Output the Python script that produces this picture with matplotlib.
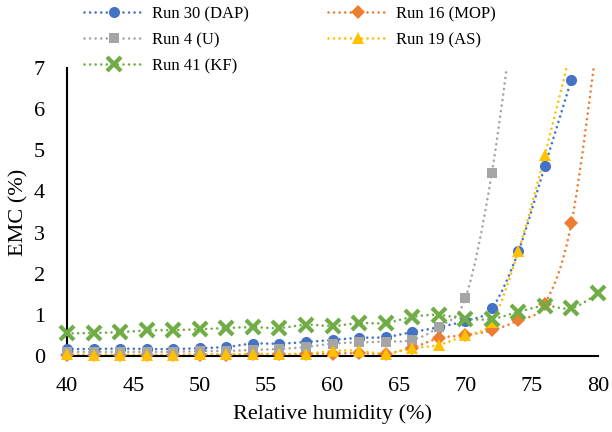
import numpy as np
import matplotlib
matplotlib.use("Agg")
import matplotlib.pyplot as plt
from matplotlib.path import Path
from matplotlib.patches import PathPatch
from matplotlib.lines import Line2D

plt.rcParams["font.family"] = ["Liberation Serif", "DejaVu Serif"]

# relative humidity (%) and equilibrium moisture content (%) for each run
rh_dap = [40, 42, 44, 46, 48, 50, 52, 54, 56, 58, 60, 62, 64, 66, 68, 70, 72, 74, 76, 78]
emc_dap = [0.17, 0.17, 0.18, 0.17, 0.17, 0.19, 0.22, 0.30, 0.30, 0.34,
           0.39, 0.44, 0.46, 0.58, 0.70, 0.86, 1.16, 2.54, 4.62, 6.72]

rh_mop = [40, 42, 44, 46, 48, 50, 52, 54, 56, 58, 60, 62, 64, 66, 68, 70, 72, 74, 76, 78, 80]
emc_mop = [0.03, 0.02, 0.02, 0.02, 0.02, 0.03, 0.03, 0.04, 0.04, 0.05,
           0.06, 0.07, 0.06, 0.20, 0.43, 0.51, 0.62, 0.87, 1.27, 3.23, 7.8]

rh_u = [40, 42, 44, 46, 48, 50, 52, 54, 56, 58, 60, 62, 64, 66, 68, 70, 72, 74]
emc_u = [0.10, 0.10, 0.10, 0.10, 0.10, 0.12, 0.12, 0.15, 0.17, 0.22,
         0.30, 0.33, 0.35, 0.39, 0.71, 1.40, 4.44, 9.2]

rh_as = [40, 42, 44, 46, 48, 50, 52, 54, 56, 58, 60, 62, 64, 66, 68, 70, 72, 74, 76, 78]
emc_as = [0.04, 0.03, 0.03, 0.03, 0.03, 0.04, 0.04, 0.05, 0.05, 0.06,
          0.12, 0.13, 0.05, 0.19, 0.27, 0.51, 0.83, 2.55, 4.89, 7.5]

rh_kf = [40, 42, 44, 46, 48, 50, 52, 54, 56, 58, 60, 62, 64, 66, 68, 70, 72, 74, 76, 78, 80]
emc_kf = [0.55, 0.56, 0.58, 0.62, 0.63, 0.65, 0.68, 0.70, 0.68, 0.76,
          0.73, 0.80, 0.80, 0.95, 1.00, 0.90, 0.90, 1.07, 1.22, 1.16, 1.52]

series = [
    # label, x, y, colour, marker, marker size
    ("Run 30 (DAP)", rh_dap, emc_dap, "#4472C4", "o", 8),
    ("Run 16 (MOP)", rh_mop, emc_mop, "#ED7D31", "D", 7),
    ("Run 4 (U)", rh_u, emc_u, "#A5A5A5", "s", 7.5),
    ("Run 19 (AS)", rh_as, emc_as, "#FFC000", "^", 9),
    ("Run 41 (KF)", rh_kf, emc_kf, "#70AD47", "x", 9.5),
]

Y_MAX = 7
LW = 1.9
DOTS = (0, (0.01, 2.1))


def smooth_path(x, y):
    # cubic Bezier through the points (Catmull-Rom style tangents)
    pts = np.column_stack([x, y]).astype(float)
    n = len(pts)
    verts = [pts[0]]
    codes = [Path.MOVETO]
    for i in range(n - 1):
        p0 = pts[i - 1] if i > 0 else pts[i]
        p1 = pts[i]
        p2 = pts[i + 1]
        p3 = pts[i + 2] if i + 2 < n else pts[i + 1]
        c1 = p1 + (p2 - p0) / 6.0
        c2 = p2 - (p3 - p1) / 6.0
        verts += [c1, c2, p2]
        codes += [Path.CURVE4] * 3
    return Path(verts, codes)


fig = plt.figure(figsize=(6.12, 4.32), dpi=100)
ax = fig.add_axes([67 / 612, 1 - 356 / 432, (598 - 67) / 612, (356 - 68) / 432])

handles = {}
for label, x, y, color, marker, ms in series:
    patch = PathPatch(smooth_path(x, y), facecolor="none", edgecolor=color,
                      linewidth=LW, linestyle=DOTS, capstyle="round")
    ax.add_patch(patch)
    mew = 3 if marker == "x" else 0
    # markers sit over the axis edges; points above the y range are left out
    xs = [a for a, b in zip(x, y) if b <= Y_MAX]
    ys = [b for b in y if b <= Y_MAX]
    ax.plot(xs, ys, linestyle="none", marker=marker, markersize=ms,
            color=color, markeredgewidth=mew, markeredgecolor=color,
            clip_on=False)
    handles[label] = Line2D([], [], color=color, linewidth=LW, linestyle=DOTS,
                            dash_capstyle="round", marker=marker, markersize=ms,
                            markeredgewidth=mew, markeredgecolor=color)

ax.set_xlim(40, 80)
ax.set_ylim(0, Y_MAX)
ax.set_xticks(np.arange(40, 81, 5))
ax.set_yticks(np.arange(0, 8, 1))
ax.tick_params(axis="both", length=0, labelsize=16)
ax.tick_params(axis="x", pad=15)
ax.tick_params(axis="y", pad=16)
for side in ("top", "right"):
    ax.spines[side].set_visible(False)
for side in ("left", "bottom"):
    ax.spines[side].set_linewidth(1.5)
    ax.spines[side].set_color("black")
    ax.spines[side].set_zorder(1)

ax.set_xlabel("Relative humidity (%)", fontsize=16, labelpad=6)
ax.set_ylabel("EMC (%)", fontsize=16, labelpad=4)

order = ["Run 30 (DAP)", "Run 4 (U)", "Run 41 (KF)", "Run 16 (MOP)", "Run 19 (AS)"]
fig.legend([handles[k] for k in order], order, ncol=2, loc="upper left",
           bbox_to_anchor=(84 / 612, 1 - 6 / 432), frameon=False, fontsize=12,
           borderpad=0, borderaxespad=0, handlelength=3.6, handletextpad=0.5,
           labelspacing=0.6, columnspacing=4.7, numpoints=1)

fig.savefig("out.png", dpi=100)
